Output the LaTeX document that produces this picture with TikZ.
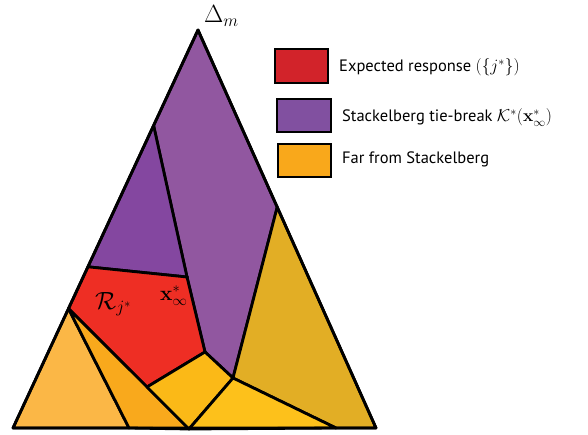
\documentclass[tikz,border=0pt]{standalone}
\usepackage[no-math]{fontspec}
\setmainfont{PT Sans}
\usetikzlibrary{calc}

\definecolor{bigpurple}{HTML}{9157A0}
\definecolor{lowpurple}{HTML}{8447A0}
\definecolor{respred}{HTML}{EE2E24}
\definecolor{goldright}{HTML}{E2AE25}
\definecolor{lightorange}{HTML}{FBB746}
\definecolor{midorange}{HTML}{F9A91C}
\definecolor{centeryellow}{HTML}{FBB917}
\definecolor{baseyellow}{HTML}{FDC11B}
\definecolor{keyred}{HTML}{D2232A}
\definecolor{keypurple}{HTML}{8150A0}
\definecolor{keyorange}{HTML}{F9A81B}

\begin{document}
\begin{tikzpicture}[x=1pt,y=-1pt,
  region/.style={draw=black,line width=2.8pt,line join=round},
  keybox/.style={draw=black,line width=2.6pt},
  keytext/.style={anchor=base west,inner sep=0pt,font=\fontsize{16.5}{19}\selectfont},
  mathlabel/.style={anchor=base west,inner sep=0pt}]
\useasboundingbox (0,0) rectangle (588,435);

% simplex corners
\coordinate (A)  at (198,30);
\coordinate (BL) at (13,428);
\coordinate (BR) at (376,428);

% points on the boundary of the simplex
\coordinate (P1) at ($(A)!0.24!(BL)$);
\coordinate (P2) at ($(A)!0.595!(BL)$);
\coordinate (P3) at ($(A)!0.70!(BL)$);
\coordinate (R1) at ($(A)!0.445!(BR)$);
\coordinate (B1) at (129,428);
\coordinate (B2) at (189,429);
\coordinate (B3) at (336,428);

% interior vertices
\coordinate (X) at (187,277);
\coordinate (Q) at (205,352);
\coordinate (S) at (147,387);
\coordinate (T) at (233,378);

% cells of the partition
\filldraw[region,fill=bigpurple]    (A) -- (R1) -- (T) -- (Q) -- (X) -- (P1) -- cycle;
\filldraw[region,fill=lowpurple]    (P1) -- (X) -- (P2) -- cycle;
\filldraw[region,fill=respred]      (P2) -- (X) -- (Q) -- (S) -- (P3) -- cycle;
\filldraw[region,fill=goldright]    (R1) -- (BR) -- (B3) -- (T) -- cycle;
\filldraw[region,fill=lightorange]  (P3) -- (B1) -- (BL) -- cycle;
\filldraw[region,fill=midorange]    (P3) -- (S) -- (B2) -- (B1) -- cycle;
\filldraw[region,fill=centeryellow] (S) -- (Q) -- (T) -- (B2) -- cycle;
\filldraw[region,fill=baseyellow]   (T) -- (B3) -- (B2) -- cycle;
\draw[region] (A) -- (BL) -- (BR) -- cycle;
\fill (X) circle (1.8pt);

% labels inside the simplex
\node[mathlabel,font=\fontsize{25}{28}\selectfont] (simplex) at (204,23) {$\Delta_m$};
\node[mathlabel,font=\fontsize{24}{27}\selectfont] (rlabel) at (95,309) {$\mathcal{R}_{j^*}$};
\node[mathlabel,font=\fontsize{22}{25}\selectfont] (xlabel) at (160,300) {$\mathbf{x}^*_\infty$};

% legend
\filldraw[keybox,fill=keyred]    (275,49)  rectangle (328,83);
\filldraw[keybox,fill=keypurple] (277,99)  rectangle (331,132);
\filldraw[keybox,fill=keyorange] (278,144) rectangle (331,177);
\node[keytext] (key1) at (339,72)  {Expected response $\Bigl(\{j^*\}\Bigr)$};
\node[keytext] (key2) at (342,122) {Stackelberg tie-break $\mathcal{K}^*(\mathbf{x}^*_\infty)$};
\node[keytext] (key3) at (342,164) {Far from Stackelberg};
\end{tikzpicture}
\end{document}
